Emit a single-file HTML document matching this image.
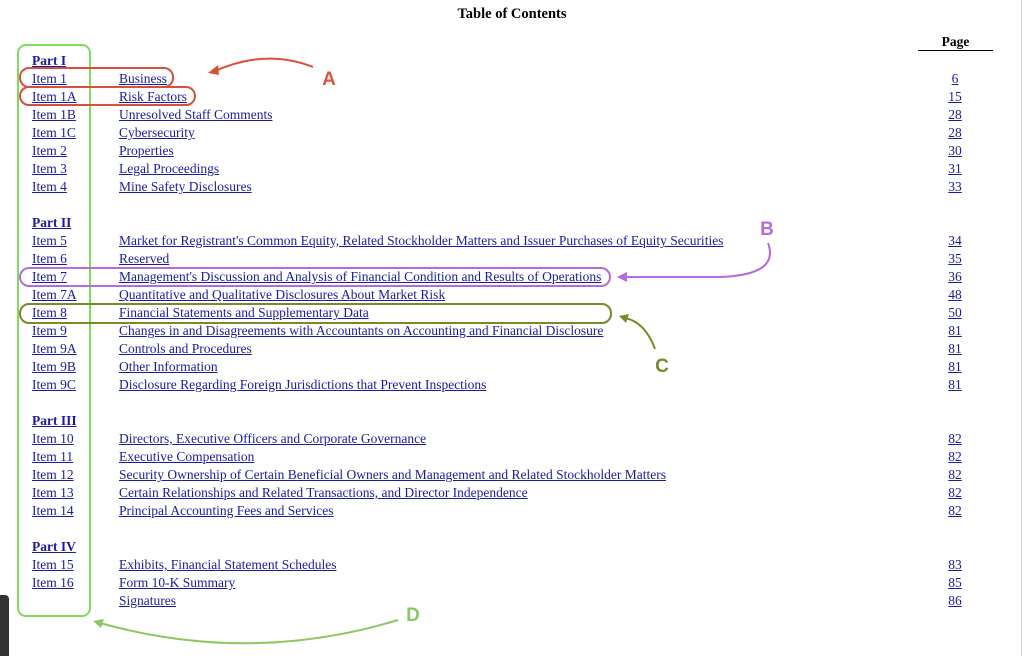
<!DOCTYPE html>
<html><head><meta charset="utf-8"><style>
body{margin:0;width:1024px;height:656px;background:#fff;position:relative;overflow:hidden;font-family:"Liberation Serif",serif;font-size:13.5px;}
.w{position:absolute;left:0;top:1px;width:1024px;height:656px;}
.t{position:absolute;line-height:18px;white-space:nowrap;color:#1a1aa6;text-decoration:underline;}
.b{font-weight:bold;}
.p{width:30px;text-align:center;left:940px;}
</style></head><body>
<div style="position:absolute;left:0;top:4px;width:1024px;text-align:center;font-weight:bold;font-size:14.5px;line-height:20px;color:#000">Table of Contents</div>
<div style="position:absolute;left:918px;top:33px;width:75px;text-align:center;font-weight:bold;line-height:18px;color:#000">Page</div>
<div style="position:absolute;left:918px;top:50px;width:75px;height:1px;background:#000"></div>
<div style="position:absolute;left:1021px;top:0;width:1px;height:656px;background:#ccc"></div>
<div style="position:absolute;left:0;top:595px;width:9px;height:61px;background:#333;border-top-right-radius:4px"></div>
<div class="w">
<div class="t b" style="left:32px;top:51px">Part I</div>
<div class="t" style="left:32px;top:69px">Item 1</div><div class="t" style="left:119px;top:69px">Business</div><div class="t p" style="top:69px">6</div>
<div class="t" style="left:32px;top:87px">Item 1A</div><div class="t" style="left:119px;top:87px">Risk Factors</div><div class="t p" style="top:87px">15</div>
<div class="t" style="left:32px;top:105px">Item 1B</div><div class="t" style="left:119px;top:105px">Unresolved Staff Comments</div><div class="t p" style="top:105px">28</div>
<div class="t" style="left:32px;top:123px">Item 1C</div><div class="t" style="left:119px;top:123px">Cybersecurity</div><div class="t p" style="top:123px">28</div>
<div class="t" style="left:32px;top:141px">Item 2</div><div class="t" style="left:119px;top:141px">Properties</div><div class="t p" style="top:141px">30</div>
<div class="t" style="left:32px;top:159px">Item 3</div><div class="t" style="left:119px;top:159px">Legal Proceedings</div><div class="t p" style="top:159px">31</div>
<div class="t" style="left:32px;top:177px">Item 4</div><div class="t" style="left:119px;top:177px">Mine Safety Disclosures</div><div class="t p" style="top:177px">33</div>

<div class="t b" style="left:32px;top:213px">Part II</div>
<div class="t" style="left:32px;top:231px">Item 5</div><div class="t" style="left:119px;top:231px">Market for Registrant's Common Equity, Related Stockholder Matters and Issuer Purchases of Equity Securities</div><div class="t p" style="top:231px">34</div>
<div class="t" style="left:32px;top:249px">Item 6</div><div class="t" style="left:119px;top:249px">Reserved</div><div class="t p" style="top:249px">35</div>
<div class="t" style="left:32px;top:267px">Item 7</div><div class="t" style="left:119px;top:267px">Management's Discussion and Analysis of Financial Condition and Results of Operations</div><div class="t p" style="top:267px">36</div>
<div class="t" style="left:32px;top:285px">Item 7A</div><div class="t" style="left:119px;top:285px">Quantitative and Qualitative Disclosures About Market Risk</div><div class="t p" style="top:285px">48</div>
<div class="t" style="left:32px;top:303px">Item 8</div><div class="t" style="left:119px;top:303px">Financial Statements and Supplementary Data</div><div class="t p" style="top:303px">50</div>
<div class="t" style="left:32px;top:321px">Item 9</div><div class="t" style="left:119px;top:321px">Changes in and Disagreements with Accountants on Accounting and Financial Disclosure</div><div class="t p" style="top:321px">81</div>
<div class="t" style="left:32px;top:339px">Item 9A</div><div class="t" style="left:119px;top:339px">Controls and Procedures</div><div class="t p" style="top:339px">81</div>
<div class="t" style="left:32px;top:357px">Item 9B</div><div class="t" style="left:119px;top:357px">Other Information</div><div class="t p" style="top:357px">81</div>
<div class="t" style="left:32px;top:375px">Item 9C</div><div class="t" style="left:119px;top:375px">Disclosure Regarding Foreign Jurisdictions that Prevent Inspections</div><div class="t p" style="top:375px">81</div>

<div class="t b" style="left:32px;top:411px">Part III</div>
<div class="t" style="left:32px;top:429px">Item 10</div><div class="t" style="left:119px;top:429px">Directors, Executive Officers and Corporate Governance</div><div class="t p" style="top:429px">82</div>
<div class="t" style="left:32px;top:447px">Item 11</div><div class="t" style="left:119px;top:447px">Executive Compensation</div><div class="t p" style="top:447px">82</div>
<div class="t" style="left:32px;top:465px">Item 12</div><div class="t" style="left:119px;top:465px">Security Ownership of Certain Beneficial Owners and Management and Related Stockholder Matters</div><div class="t p" style="top:465px">82</div>
<div class="t" style="left:32px;top:483px">Item 13</div><div class="t" style="left:119px;top:483px">Certain Relationships and Related Transactions, and Director Independence</div><div class="t p" style="top:483px">82</div>
<div class="t" style="left:32px;top:501px">Item 14</div><div class="t" style="left:119px;top:501px">Principal Accounting Fees and Services</div><div class="t p" style="top:501px">82</div>

<div class="t b" style="left:32px;top:537px">Part IV</div>
<div class="t" style="left:32px;top:555px">Item 15</div><div class="t" style="left:119px;top:555px">Exhibits, Financial Statement Schedules</div><div class="t p" style="top:555px">83</div>
<div class="t" style="left:32px;top:573px">Item 16</div><div class="t" style="left:119px;top:573px">Form 10-K Summary</div><div class="t p" style="top:573px">85</div>
<div class="t" style="left:119px;top:591px">Signatures</div><div class="t p" style="top:591px">86</div>
</div>
<svg width="1024" height="656" style="position:absolute;left:0;top:0" xmlns="http://www.w3.org/2000/svg">
<g fill="none" stroke-width="2">
<rect x="18" y="45" width="72" height="571" rx="8" stroke="#7ddc5a"/>
<rect x="20" y="68" width="153" height="19" rx="9" stroke="#d9503a"/>
<rect x="20" y="87" width="175" height="18" rx="9" stroke="#d9503a"/>
<path d="M313 67 Q265 48 213 72" stroke="#d9503a"/>
<rect x="20" y="268" width="590" height="18" rx="9" stroke="#b36be0"/>
<path d="M768 243 Q780 275 720 277 L624 277" stroke="#b36be0"/>
<rect x="20" y="304" width="591" height="19" rx="9" stroke="#7a8a2a"/>
<path d="M655 349 Q645 322 625 318" stroke="#7a8a2a"/>
<path d="M398 620 Q250 665 100 623" stroke="#8cc860"/>
</g>
<polygon points="208,73 218,65 219,75" fill="#d9503a"/>
<polygon points="617,277 627,272 627,282" fill="#b36be0"/>
<polygon points="619,316 629,314 626,323" fill="#7a8a2a"/>
<polygon points="93,621 104,619 101,628" fill="#8cc860"/>
<g font-family="Liberation Sans, sans-serif" font-weight="bold" font-size="19" text-anchor="middle">
<text x="329" y="85" fill="#e0553a">A</text>
<text x="767" y="235" fill="#b36be0">B</text>
<text x="662" y="372" fill="#7a8a2a">C</text>
<text x="413" y="621" fill="#8cc860">D</text>
</g>
</svg>
</body></html>
